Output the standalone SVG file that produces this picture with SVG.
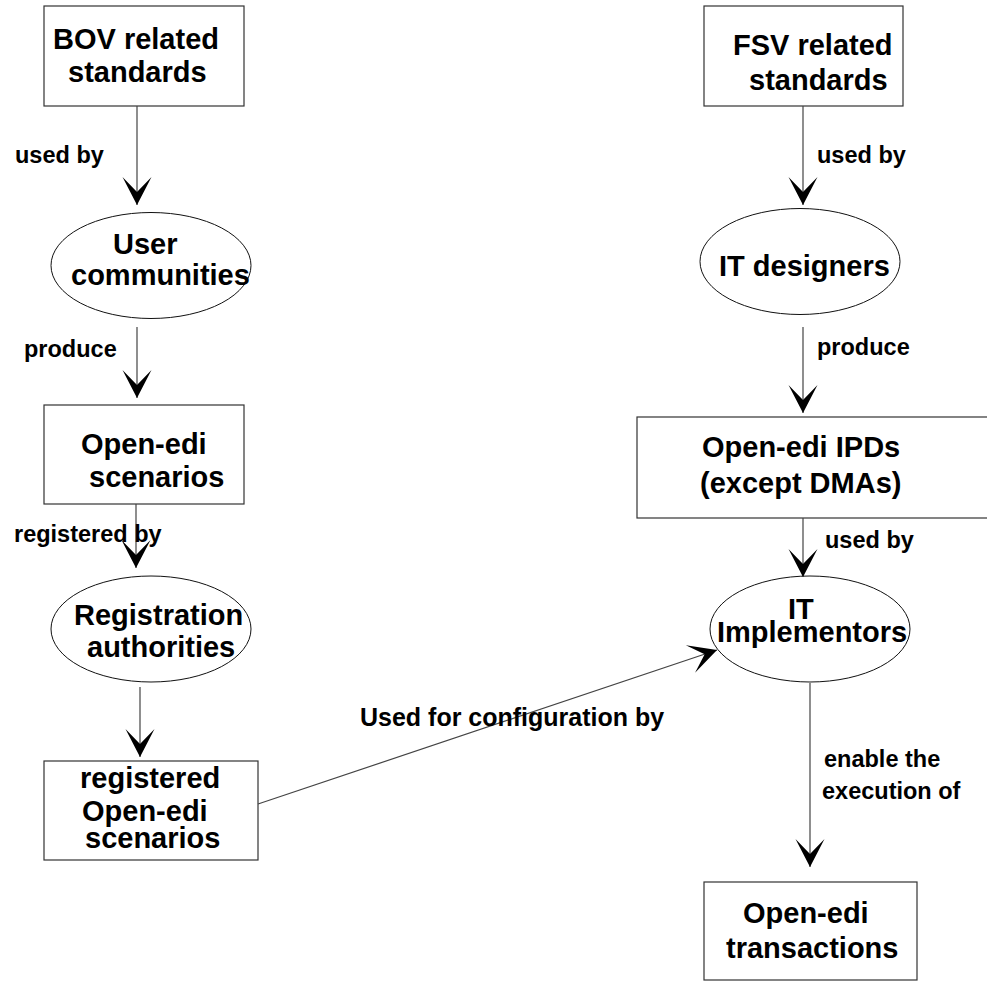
<svg xmlns="http://www.w3.org/2000/svg" width="987" height="981" viewBox="0 0 987 981">
  <style>
    .box { fill: #ffffff; stroke: #333333; stroke-width: 1.2; }
    .oval { fill: #ffffff; stroke: #111111; stroke-width: 1; }
    .node { font-family: "Liberation Sans", Arial, sans-serif; font-weight: bold; font-size: 29px; fill: #000000; }
    .lbl { font-family: "Liberation Sans", Arial, sans-serif; font-weight: bold; font-size: 23.5px; fill: #000000; }
    .edge { fill: none; stroke: #444444; stroke-width: 1.2; }
  </style>
  <defs>
    <marker id="barb" viewBox="-30 -16 32 32" refX="0" refY="0" markerWidth="32" markerHeight="32" markerUnits="userSpaceOnUse" orient="auto">
      <path d="M0,0 L-28,-14.5 L-13,0 L-28,14.5 Z" fill="#000000"/>
    </marker>
  </defs>
  <rect width="987" height="981" fill="#ffffff"/>

  <!-- left column -->
  <g id="bov-standards">
    <rect class="box" x="44" y="6" width="200" height="100"/>
    <text class="node" x="53" y="49">BOV related</text>
    <text class="node" x="68" y="82">standards</text>
  </g>
  <g id="user-communities">
    <ellipse class="oval" cx="151" cy="265.5" rx="100" ry="53"/>
    <text class="node" x="113" y="254">User</text>
    <text class="node" x="71" y="285">communities</text>
  </g>
  <g id="open-edi-scenarios">
    <rect class="box" x="44" y="405" width="200" height="99"/>
    <text class="node" x="81" y="454">Open-edi</text>
    <text class="node" x="89" y="487">scenarios</text>
  </g>
  <g id="registration-authorities">
    <ellipse class="oval" cx="151" cy="629" rx="100" ry="53"/>
    <text class="node" x="74" y="625">Registration</text>
    <text class="node" x="87" y="657">authorities</text>
  </g>
  <g id="registered-scenarios">
    <rect class="box" x="44" y="761" width="214" height="99"/>
    <text class="node" x="80" y="788">registered</text>
    <text class="node" x="82" y="821">Open-edi</text>
    <text class="node" x="85" y="848">scenarios</text>
  </g>

  <!-- right column -->
  <g id="fsv-standards">
    <rect class="box" x="704" y="6" width="199" height="100"/>
    <text class="node" x="733" y="55">FSV related</text>
    <text class="node" x="749" y="90">standards</text>
  </g>
  <g id="it-designers">
    <ellipse class="oval" cx="800" cy="261.5" rx="100" ry="53"/>
    <text class="node" x="719" y="276">IT designers</text>
  </g>
  <g id="open-edi-ipds">
    <rect class="box" x="637" y="417" width="370" height="101"/>
    <text class="node" x="702" y="457">Open-edi IPDs</text>
    <text class="node" x="700" y="493">(except DMAs)</text>
  </g>
  <g id="it-implementors">
    <ellipse class="oval" cx="810" cy="629" rx="100" ry="53"/>
    <text class="node" x="788" y="619">IT</text>
    <text class="node" x="717" y="642">Implementors</text>
  </g>
  <g id="open-edi-transactions">
    <rect class="box" x="704" y="882" width="213" height="98"/>
    <text class="node" x="743" y="923">Open-edi</text>
    <text class="node" x="726" y="958">transactions</text>
  </g>

  <!-- connectors -->
  <g id="connectors">
    <line class="edge" x1="137" y1="106" x2="137" y2="205" marker-end="url(#barb)"/>
    <line class="edge" x1="137" y1="327" x2="137" y2="398" marker-end="url(#barb)"/>
    <line class="edge" x1="136" y1="504" x2="136" y2="568" marker-end="url(#barb)"/>
    <line class="edge" x1="140" y1="687" x2="140" y2="757" marker-end="url(#barb)"/>
    <line class="edge" x1="258" y1="804" x2="717" y2="650" marker-end="url(#barb)"/>
    <line class="edge" x1="803" y1="106" x2="803" y2="205" marker-end="url(#barb)"/>
    <line class="edge" x1="803" y1="327" x2="803" y2="413" marker-end="url(#barb)"/>
    <line class="edge" x1="803" y1="518" x2="803" y2="577" marker-end="url(#barb)"/>
    <line class="edge" x1="810" y1="683" x2="810" y2="867" marker-end="url(#barb)"/>

    <text class="lbl" x="15" y="163">used by</text>
    <text class="lbl" x="24" y="357">produce</text>
    <text class="lbl" x="14" y="542">registered by</text>
    <text class="lbl" x="360" y="726" style="font-size:25px">Used for configuration by</text>
    <text class="lbl" x="817" y="163">used by</text>
    <text class="lbl" x="817" y="355">produce</text>
    <text class="lbl" x="825" y="548">used by</text>
    <text class="lbl" x="824" y="767">enable the</text>
    <text class="lbl" x="822" y="799">execution of</text>
  </g>
</svg>
